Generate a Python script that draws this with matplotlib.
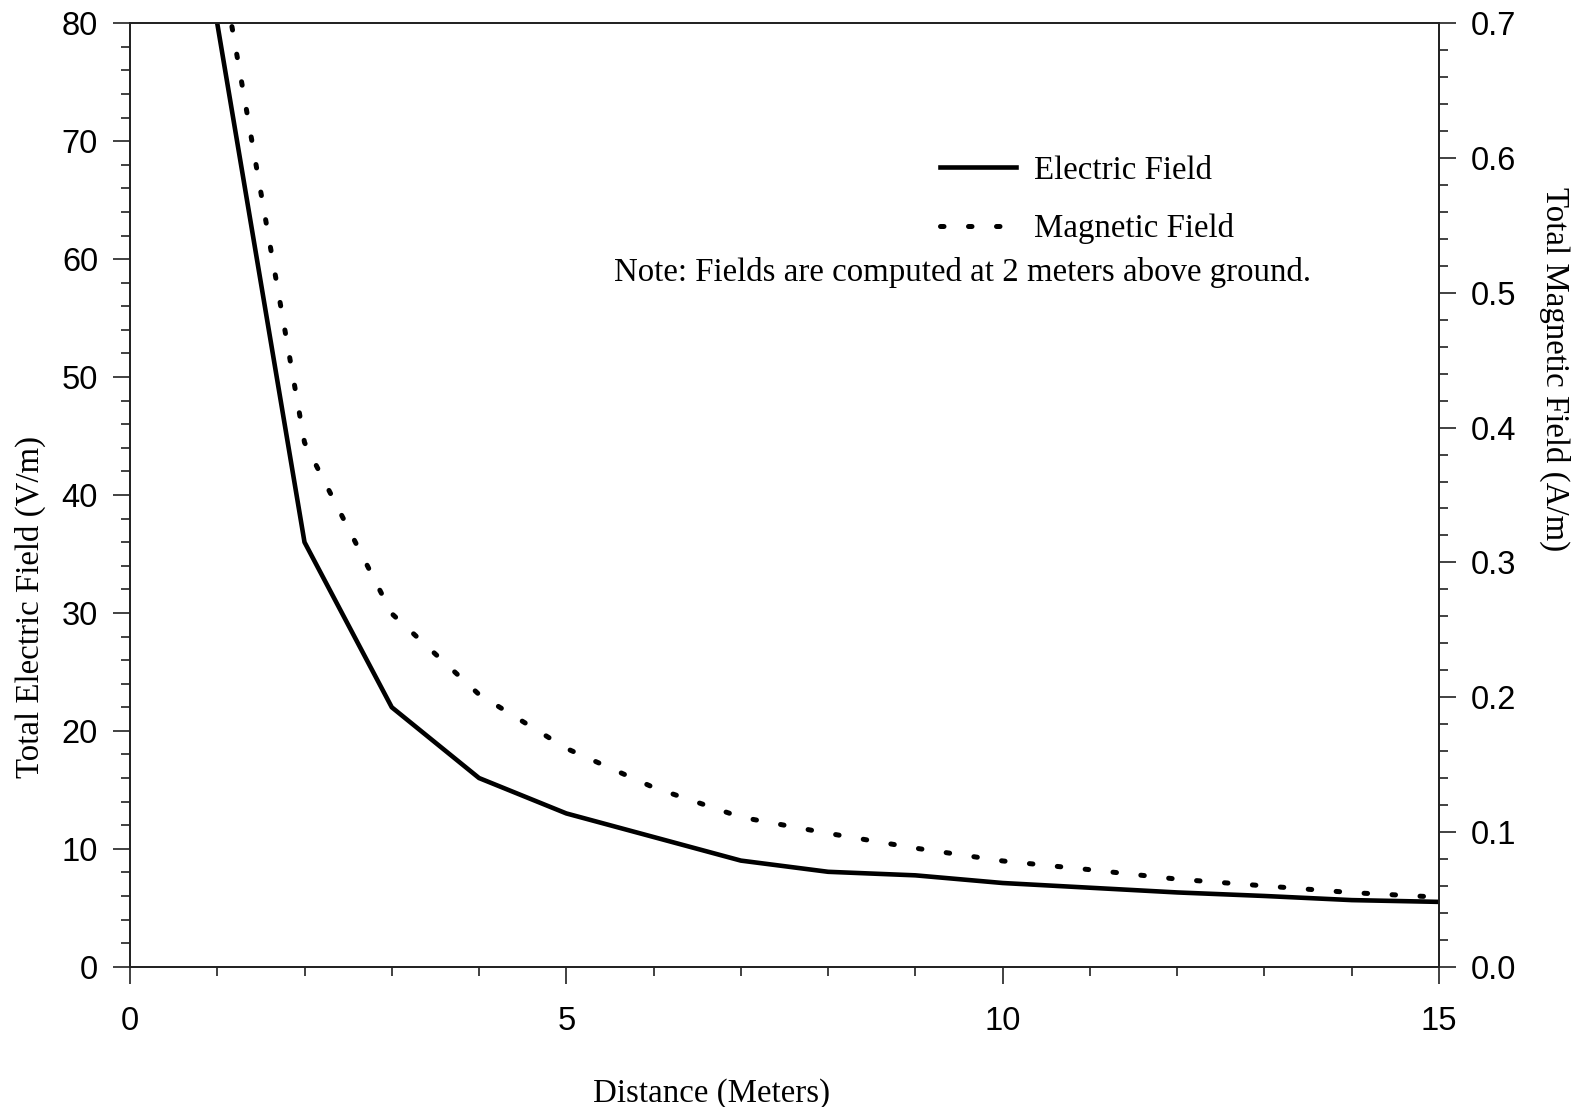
import matplotlib
matplotlib.use("Agg")
import matplotlib.pyplot as plt
from matplotlib.ticker import MultipleLocator

distance = [1, 2, 3, 4, 5, 6, 7, 8, 9, 10, 11, 12, 13, 14, 15]
electric = [80, 36, 22, 16, 13, 11, 9.0, 8.05, 7.75, 7.1, 6.7, 6.3, 6.0, 5.65, 5.5]
magnetic = [0.76, 0.389, 0.262, 0.202, 0.162, 0.133, 0.111, 0.099, 0.088,
            0.0785, 0.072, 0.065, 0.060, 0.055, 0.0516]

x_ticks = [0, 5, 10, 15]
left_ticks = [0, 10, 20, 30, 40, 50, 60, 70, 80]
right_ticks = [0.0, 0.1, 0.2, 0.3, 0.4, 0.5, 0.6, 0.7]

serif = ["Liberation Serif", "DejaVu Serif"]
sans = ["Liberation Sans", "DejaVu Sans"]

fig = plt.figure(figsize=(15.81, 11.07), dpi=100)
ax = fig.add_axes([0.0822, 0.1267, 0.8280, 0.8523])
ax2 = ax.twinx()

ax.plot(distance, electric, color="black", lw=3.3, solid_joinstyle="round",
        label="Electric Field")
ax2.plot(distance, magnetic, color="black", lw=3.6, linestyle=(0, (0.7, 4.9)),
         dash_capstyle="round", label="Magnetic Field")

ax.set_xlim(0, 15)
ax.set_ylim(0, 80)
ax2.set_ylim(0, 0.7)

ax.set_xticks(x_ticks)
ax.set_yticks(left_ticks)
ax2.set_yticks(right_ticks)
ax.xaxis.set_minor_locator(MultipleLocator(1))
ax.yaxis.set_minor_locator(MultipleLocator(2))
ax2.yaxis.set_minor_locator(MultipleLocator(0.02))
ax2.set_yticklabels([f"{v:.1f}" for v in right_ticks])

tick_col = "#333333"
for a in (ax, ax2):
    for s in a.spines.values():
        s.set_linewidth(1.3)
        s.set_color("#222222")
ax.tick_params(axis="both", which="major", length=12, width=1.3, color=tick_col,
               labelsize=23.5, direction="out")
ax.tick_params(axis="both", which="minor", length=6.5, width=1.3, color=tick_col,
               direction="out")
ax.tick_params(axis="x", which="major", pad=16)
ax.tick_params(axis="y", which="major", pad=11)
ax2.tick_params(axis="y", which="major", length=12, width=1.3, color=tick_col,
                labelsize=23.5, pad=11, direction="out")
ax2.tick_params(axis="y", which="minor", length=6.5, width=1.3, color=tick_col,
                direction="out")
for lab in ax.get_xticklabels() + ax.get_yticklabels() + ax2.get_yticklabels():
    lab.set_fontfamily(sans)

ax.set_xlabel("Distance (Meters)", fontsize=23.7, family=serif)
ax.xaxis.set_label_coords(0.444, -0.118)
ax.set_ylabel("Total Electric Field (V/m)", fontsize=23.7, family=serif)
ax.yaxis.set_label_coords(-0.0645, 0.381)
ax2.set_ylabel("Total Magnetic Field (A/m)", fontsize=23.7, family=serif,
               rotation=270)
ax2.yaxis.set_label_coords(1.100, 0.633)

ax.text(0.636, 0.736, "Note: Fields are computed at 2 meters above ground.",
        transform=ax.transAxes, ha="center", va="center", fontsize=23.7,
        family=serif)

h1, l1 = ax.get_legend_handles_labels()
h2, l2 = ax2.get_legend_handles_labels()
leg = ax2.legend(h1 + h2, l1 + l2, loc="upper left",
                 bbox_to_anchor=((940 - 130) / 1309, 0.860),
                 frameon=False, borderpad=0, borderaxespad=0,
                 handlelength=2.3, handletextpad=0.55, labelspacing=0.83,
                 prop={"family": serif, "size": 23.7})

fig.savefig("out.png", dpi=100)
